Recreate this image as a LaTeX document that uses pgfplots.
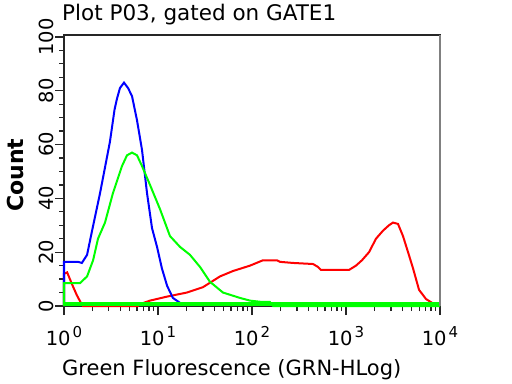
\documentclass[border=0pt]{standalone}
\usepackage{pgfplots}
\pgfplotsset{compat=1.18}
\usepackage{fontspec}
\setmainfont{DejaVu Sans}
\definecolor{fblue}{RGB}{0,0,255}
\definecolor{fred}{RGB}{255,0,0}
\definecolor{fgreen}{RGB}{0,255,0}
\newcommand{\dec}[1]{\mbox{10\kern2bp\raisebox{8bp}{\fontsize{15bp}{15bp}\selectfont #1}}}
\begin{document}
\begin{tikzpicture}
\useasboundingbox (0,0) rectangle (512bp,384bp);
\begin{axis}[
  at={(64bp,78bp)}, anchor=south west,
  scale only axis, width=376bp, height=271bp,
  xmode=log, xmin=1, xmax=10000,
  ymin=0, ymax=100.7,
  /pgf/number format/assume math mode=true,
  xtick={1,10,100,1000,10000},
  xticklabels={\dec{0},\dec{1},\dec{2},\dec{3},\dec{4}},
  minor xtick={2,3,4,5,6,7,8,9,20,30,40,50,60,70,80,90,200,300,400,500,600,700,800,900,2000,3000,4000,5000,6000,7000,8000,9000},
  ytick={0,20,40,60,80,100},
  minor ytick={5,10,15,25,30,35,45,50,55,65,70,75,85,90,95},
  tick align=outside, tick pos=left,
  major tick length=9bp, minor tick length=5bp,
  every tick/.style={black!85, line width=1.3bp},
  axis line style={black!85, line width=1.5bp},
  yticklabel style={rotate=90, anchor=south, inner sep=0pt, yshift=1.5bp, font=\fontsize{19.5bp}{19.5bp}\selectfont},
  xticklabel style={anchor=base, inner sep=0pt, yshift=-30bp, font=\fontsize{19.5bp}{19.5bp}\selectfont},
  title={Plot P03, gated on GATE1},
  title style={at={(axis description cs:0,1)}, anchor=base west, yshift=9bp, xshift=-2bp, inner sep=0pt, font=\fontsize{21.5bp}{22bp}\selectfont},
  xlabel={Green Fluorescence (GRN-HLog)},
  xlabel style={at={(axis description cs:0,0)}, anchor=base west, yshift=-69bp, xshift=-2bp, inner sep=0pt, font=\fontsize{21bp}{22bp}\selectfont},
  ylabel={Count},
  ylabel style={at={(axis description cs:-0.1303,0.483)}, anchor=center, inner sep=0pt, font=\fontsize{22bp}{22bp}\selectfont\bfseries},
  clip=false,
]
% red
\addplot[fred, line width=2bp] coordinates {
(1,0) (1,12) (1.08,12.5) (1.22,8) (1.37,4) (1.55,0.5) (1.59,0) (6.13,0) (6.44,0.7)
(8.22,2) (12.5,3.5) (20.3,5) (30.1,7) (45.7,11) (62.8,13) (95.2,15) (131,17)
(184,17) (199,16.4) (273,16) (446,15.6) (504,14.5) (542,13.4) (1077,13.4)
(1277,15) (1479,17) (1758,20) (2084,25) (2477,28) (2866,30) (3162,31) (3573,30.5)
(4038,26) (4571,20) (5164,14) (5984,6) (7096,2.6) (8630,0.7) (9527,0)
};
% blue
\addplot[fblue, line width=2bp] coordinates {
(1,0) (1,16.4) (1.41,16.4) (1.55,16) (1.76,19) (1.99,28) (2.42,42) (3.08,61)
(3.45,73) (3.66,77) (3.94,81) (4.35,83) (4.80,81) (5.29,78) (5.98,69) (6.76,58)
(7.64,42) (8.63,29) (9.76,22) (11.0,14) (12.5,7.5) (14.4,3) (17.1,1.2) (18.9,0.3)
};
% green
\addplot[fgreen, line width=2bp] coordinates {
(1,0) (1,8.5) (1.48,8.5) (1.76,11) (2.04,17) (2.30,25) (2.73,31) (3.32,42)
(4.14,52) (4.68,56) (5.29,57) (5.98,56) (6.76,52) (8.22,45) (10.5,36) (13.4,26)
(17.1,22) (21.9,19) (28.0,14.5) (35.7,9) (49.1,5) (74.5,3) (95.2,2) (128,1.5)
(155,1.5) (167,0) (10000,0)
};
\addplot[fgreen, line width=4bp] coordinates {(1,0.75) (10000,0.75)};
\draw[gray, line width=1.5bp] (rel axis cs:1,0) -- (rel axis cs:1,1);
\end{axis}
\end{tikzpicture}
\end{document}
